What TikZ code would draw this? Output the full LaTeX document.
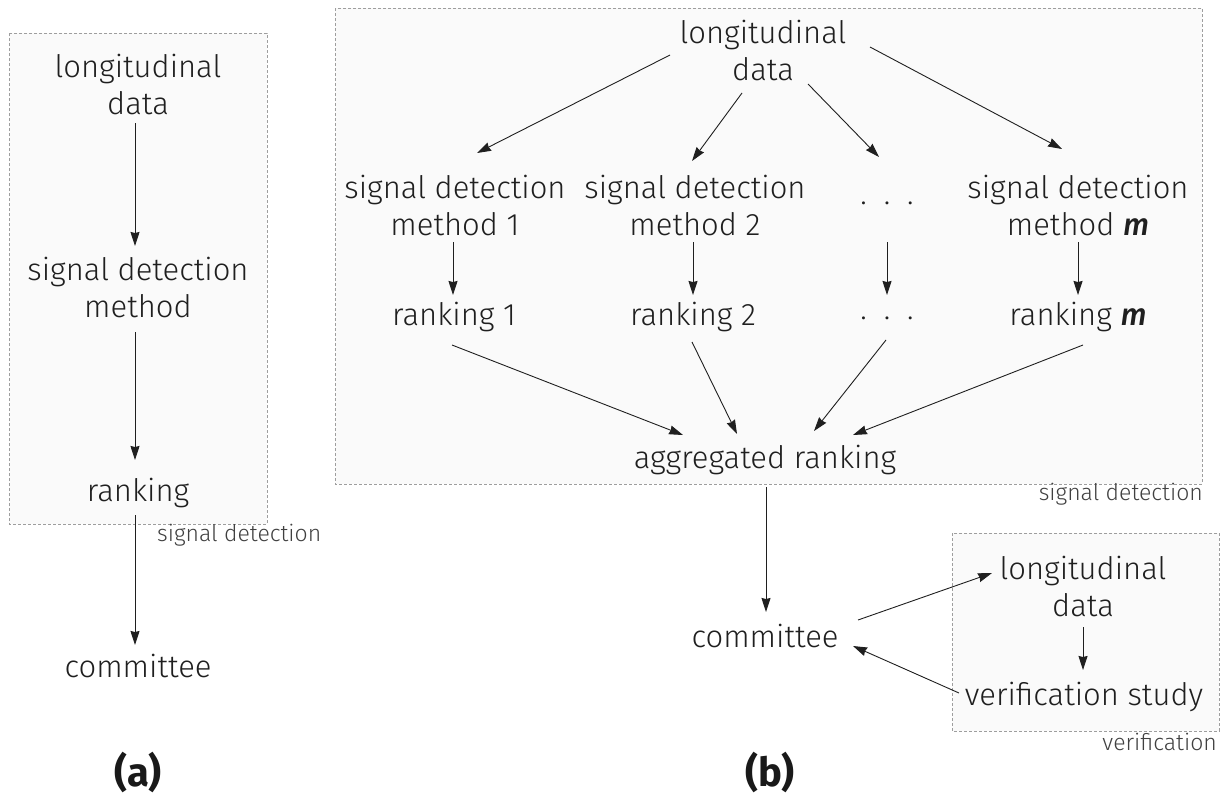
\documentclass[tikz,border=0pt]{standalone}
\usepackage{fontspec}
\setmainfont{Fira Sans}[UprightFont=* Light, ItalicFont=* Light Italic, BoldFont=* Bold, BoldItalicFont=* Medium Italic]
\usetikzlibrary{arrows.meta}
\begin{document}
\begin{tikzpicture}[x=1pt,y=-1pt,
  txt/.style={align=center, font=\fontsize{31}{37}\selectfont, text=black!88, inner sep=0pt},
  lbl/.style={font=\fontsize{23}{28}\selectfont, text=black!75, inner sep=0pt},
  paneltitle/.style={font=\bfseries\fontsize{40}{48}\selectfont, text=black!90, inner sep=0pt},
  panel/.style={draw=black!38, dash pattern=on 3pt off 2pt, fill=black!2, line width=0.8pt},
  arr/.style={-{Stealth[length=14pt,width=9pt,inset=1pt]}, line width=0.9pt, draw=black!88},
  dots/.style={font=\fontsize{31}{37}\selectfont, text=black!88, inner sep=0pt}
]
\useasboundingbox (0,0) rectangle (1223,796);

% ---------- panel (a)
\draw[panel] (9,33) rectangle (267,524);
\node[txt] (a1) at (138,84) {longitudinal\\data};
\node[txt] (a2) at (138,287) {signal detection\\method};
\node[txt] (a3) at (138,493) {ranking};
\node[txt] (a4) at (138,666) {committee};
\node[lbl, anchor=west] (la) at (157,535) {signal detection};
\node[paneltitle] (ta) at (138,772) {(a)};

\draw[arr] ([shift={(-3,39)}]a1.center) -- ([shift={(-3,-41)}]a2.center);
\draw[arr] ([shift={(-3,45)}]a2.center) -- ([shift={(-3,-33)}]a3.center);
\draw[arr] ([shift={(-3,22)}]a3.center) -- ([shift={(-3,-21)}]a4.center);

% ---------- panel (b)
\draw[panel] (335,8) rectangle (1202,484);
\node[txt] (b0) at (763,50) {longitudinal\\data};
\node[txt] (m1) at (455,205) {signal detection\\method 1};
\node[txt] (m2) at (695,205) {signal detection\\method 2};
\node[dots] (md) at (887,203) {.\kern17pt.\kern17pt.};
\node[txt] (mm) at (1078,205) {signal detection\\method \textbf{\textit{m}}};
\node[txt] (r1) at (454,317) {ranking 1};
\node[txt] (r2) at (693,317) {ranking 2};
\node[dots] (rd) at (887,318) {.\kern17pt.\kern17pt.};
\node[txt] (rm) at (1078,317) {ranking \textbf{\textit{m}}};
\node[txt] (agg) at (765,460) {aggregated ranking};
\node[lbl, anchor=east] (lb) at (1203,494) {signal detection};
\node[txt] (com) at (765,636) {committee};

\draw[panel] (952,533) rectangle (1219,731);
\node[txt] (vd) at (1083,586) {longitudinal\\data};
\node[txt] (vs) at (1084,697) {verification study};
\node[lbl, anchor=east] (lv) at (1217,742) {verification};
\node[paneltitle] (tb) at (770,772) {(b)};

\draw[arr] ([shift={(-93,5)}]b0.center) -- ([shift={(22,-52)}]m1.center);
\draw[arr] ([shift={(-21,43)}]b0.center) -- ([shift={(-3,-44)}]m2.center);
\draw[arr] ([shift={(45,34)}]b0.center) -- ([shift={(-8,-46)}]md.center);
\draw[arr] ([shift={(107,-3)}]b0.center) -- ([shift={(-16,-56)}]mm.center);

\draw[arr] ([shift={(-2,37)}]m1.center) -- ([shift={(-1,-22)}]r1.center);
\draw[arr] ([shift={(-2,37)}]m2.center) -- ([shift={(0,-22)}]r2.center);
\draw[arr] ([shift={(0,39)}]md.center) -- ([shift={(0,-23)}]rd.center);
\draw[arr] ([shift={(0,37)}]mm.center) -- ([shift={(0,-22)}]rm.center);

\draw[arr] ([shift={(-2,28)}]r1.center) -- ([shift={(-82,-25)}]agg.center);
\draw[arr] ([shift={(-1,25)}]r2.center) -- ([shift={(-28,-26)}]agg.center);
\draw[arr] ([shift={(-1,22)}]rd.center) -- ([shift={(49,-29)}]agg.center);
\draw[arr] ([shift={(5,28)}]rm.center) -- ([shift={(88,-25)}]agg.center);

\draw[arr] ([shift={(1,27)}]agg.center) -- ([shift={(1,-24)}]com.center);
\draw[arr] ([shift={(93,-16)}]com.center) -- ([shift={(-91,-13)}]vd.center);
\draw[arr] ([shift={(0,41)}]vd.center) -- ([shift={(-1,-27)}]vs.center);
\draw[arr] ([shift={(-125,-4)}]vs.center) -- ([shift={(88,10)}]com.center);
\end{tikzpicture}
\end{document}
